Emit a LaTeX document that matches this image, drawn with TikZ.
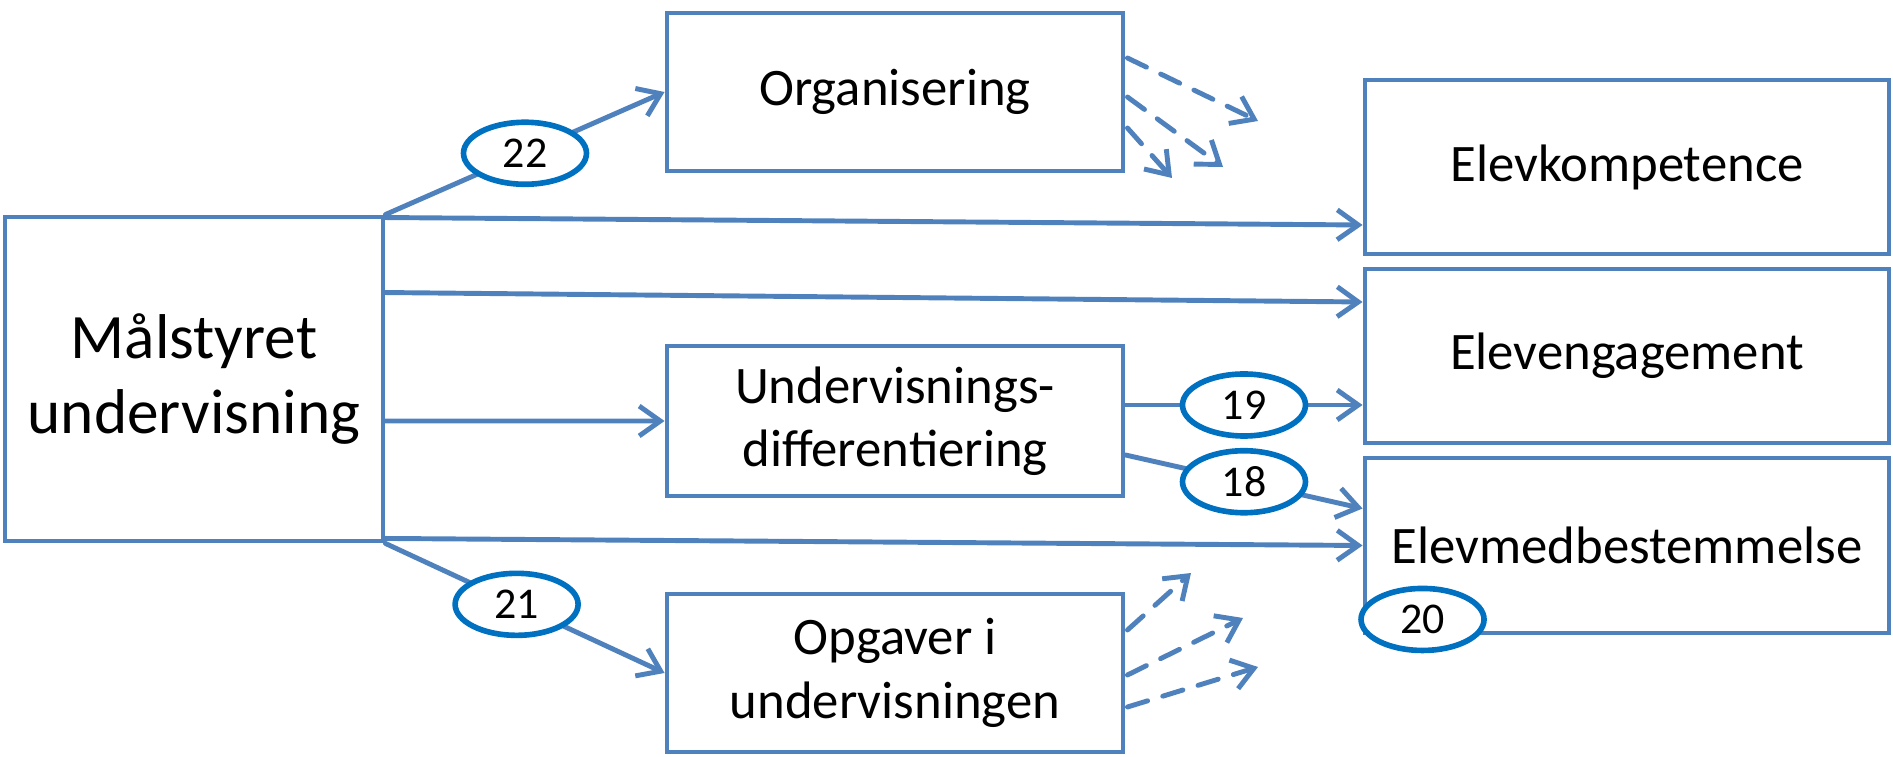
\documentclass[tikz,border=0pt]{standalone}
\usepackage{fontspec}
\setmainfont{Carlito}
\usetikzlibrary{arrows.meta,shapes.geometric}

\definecolor{lineblue}{RGB}{79,129,189}
\definecolor{numblue}{RGB}{0,112,192}

\tikzset{
  box/.style={draw=lineblue, line width=1.4pt, fill=white, align=center,
    inner sep=2pt, font=\fontsize{15}{18}\selectfont},
  num/.style={ellipse, draw=numblue, line width=1.6pt, fill=white,
    minimum width=1.23cm, minimum height=0.62cm, inner sep=0pt,
    font=\fontsize{12.5}{14}\selectfont},
  link/.style={draw=lineblue, line width=1.4pt, line cap=round,
    -{Straight Barb[length=6pt,width=8.5pt,line width=1.4pt]}},
  stub/.style={link, dash pattern=on 6pt off 4.5pt}
}

\begin{document}
\begin{tikzpicture}
        \useasboundingbox (0,0) rectangle (18.93,-7.57);

        % Boxes
        \node[box, minimum width=3.78cm, minimum height=3.24cm,
          font=\fontsize{18}{21.6}\selectfont] (mal) at (1.94,-3.79)
          {Målstyret\\undervisning};
        \node[box, minimum width=4.56cm, minimum height=1.58cm] (org) at (8.95,-0.92) {Organisering};
        \node[box, minimum width=4.56cm, minimum height=1.50cm] (udiff) at (8.95,-4.21)
          {Undervisnings-\\differentiering};
        \node[box, minimum width=4.56cm, minimum height=1.58cm] (opg) at (8.95,-6.73)
          {Opgaver i\\undervisningen};
        \node[box, minimum width=5.24cm, minimum height=1.74cm] (ek) at (16.27,-1.67) {Elevkompetence};
        \node[box, minimum width=5.24cm, minimum height=1.74cm] (eng) at (16.27,-3.56) {Elevengagement};
        \node[box, minimum width=5.24cm, minimum height=1.75cm] (emb) at (16.27,-5.455) {Elevmedbestemmelse};

        % Links from the left box
        \draw[link] (mal.north east) -- node[num] (n22) {22} (org.west);
        \draw[link] ([yshift=-0.03cm]mal.north east) -- ([yshift=-0.58cm]ek.west);
        \draw[link] ([yshift=-0.78cm]mal.north east) -- ([yshift=0.54cm]eng.west);
        \draw[link] ([yshift=-0.42cm]mal.east) -- (udiff.west);
        \draw[link] ([yshift=0.05cm]mal.south east) -- (emb.west);
        \draw[link] (mal.south east) -- node[num, pos=0.47] (n21) {21} (opg.west);

        % Links from the middle box
        \draw[link] ([yshift=0.16cm]udiff.east) -- node[num] (n19) {19}
          ([yshift=0.16cm]udiff.east -| eng.west);
        \draw[link] ([yshift=-0.34cm]udiff.east) -- node[num] (n18) {18}
          ([yshift=0.37cm]emb.west);

        % Label on the corner
        \node[num] (n20) at ([xshift=0.6cm,yshift=0.16cm]emb.south west) {20};

        % Dashed stubs
        \coordinate (o1) at (12.58,-1.21);
        \coordinate (o2) at (12.23,-1.67);
        \coordinate (o3) at (11.72,-1.78);
        \coordinate (u1) at (11.91,-5.73);
        \coordinate (u2) at (12.43,-6.18);
        \coordinate (u3) at (12.58,-6.67);
        \draw[stub] ([xshift=0.02cm,yshift=0.34cm]org.east) -- (o1);
        \draw[stub] ([xshift=0.02cm,yshift=-0.05cm]org.east) -- (o2);
        \draw[stub] ([xshift=0.02cm,yshift=-0.36cm]org.east) -- (o3);
        \draw[stub] ([xshift=0.02cm,yshift=0.43cm]opg.east) -- (u1);
        \draw[stub] ([xshift=0.02cm,yshift=-0.02cm]opg.east) -- (u2);
        \draw[stub] ([xshift=0.02cm,yshift=-0.34cm]opg.east) -- (u3);
\end{tikzpicture}
\end{document}
